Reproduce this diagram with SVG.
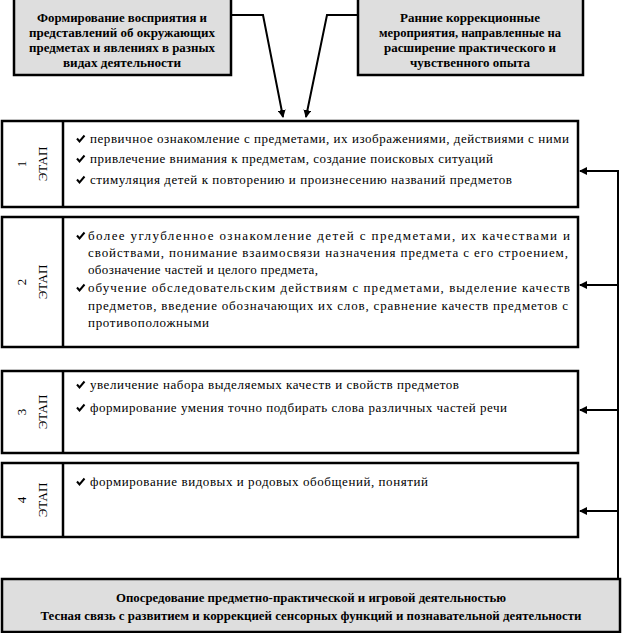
<svg xmlns="http://www.w3.org/2000/svg" width="623" height="633" viewBox="0 0 623 633">
<defs>
<style>
.box{fill:#fff;stroke:#000;stroke-width:2.5}
.gbox{fill:#dedede;stroke:#000;stroke-width:2.5}
.div{stroke:#000;stroke-width:2.5}
text{font-family:'Liberation Serif',serif;font-size:13px;fill:#000}
.b{font-weight:bold;text-anchor:middle}
.lab{text-anchor:middle}
.con{fill:none;stroke:#000;stroke-width:2}
.chk{fill:none;stroke:#000;stroke-width:2}
</style>
<marker id="ah" markerWidth="8" markerHeight="8" refX="7" refY="4" orient="auto" markerUnits="userSpaceOnUse">
<path d="M0,0 L8,4 L0,8 z" fill="#000"/>
</marker>
<path id="ck" d="M-4,-0.5 L-1.5,2.5 L3.5,-3.5" class="chk"/>
</defs>

<g id="top-left">
<rect class="gbox" x="14" y="-2" width="217" height="77"/>
<text class="b" x="122" y="22" textLength="170" lengthAdjust="spacingAndGlyphs">Формирование восприятия и</text>
<text class="b" x="122" y="37" textLength="186" lengthAdjust="spacingAndGlyphs">представлений об окружающих</text>
<text class="b" x="122" y="52" textLength="186" lengthAdjust="spacingAndGlyphs">предметах и явлениях в разных</text>
<text class="b" x="122" y="67" textLength="118" lengthAdjust="spacingAndGlyphs">видах деятельности</text>
</g>

<g id="top-right">
<rect class="gbox" x="358" y="-2" width="225" height="77"/>
<text class="b" x="470" y="22" textLength="140" lengthAdjust="spacingAndGlyphs">Ранние коррекционные</text>
<text class="b" x="470" y="37" textLength="182" lengthAdjust="spacingAndGlyphs">мероприятия, направленные на</text>
<text class="b" x="470" y="52" textLength="172" lengthAdjust="spacingAndGlyphs">расширение практического и</text>
<text class="b" x="470" y="67" textLength="120" lengthAdjust="spacingAndGlyphs">чувственного опыта</text>
</g>

<g id="stage1">
<rect class="box" x="2" y="121" width="576" height="86"/>
<line class="div" x1="63" y1="121" x2="63" y2="207"/>
<text class="lab" transform="translate(26,164) rotate(-90)">1</text>
<text class="lab" transform="translate(47,164) rotate(-90)">ЭТАП</text>
<use href="#ck" x="81" y="139"/>
<use href="#ck" x="81" y="159"/>
<use href="#ck" x="81" y="180"/>
<text x="90" y="143" textLength="479" lengthAdjust="spacing">первичное ознакомление  с предметами, их изображениями, действиями с ними</text>
<text x="90" y="163" textLength="403" lengthAdjust="spacing">привлечение внимания к предметам, создание поисковых ситуаций</text>
<text x="90" y="184" textLength="422" lengthAdjust="spacing">стимуляция детей к повторению и произнесению  названий предметов</text>
</g>

<g id="stage2">
<rect class="box" x="2" y="217" width="576" height="130"/>
<line class="div" x1="63" y1="217" x2="63" y2="347"/>
<text class="lab" transform="translate(26,282) rotate(-90)">2</text>
<text class="lab" transform="translate(47,282) rotate(-90)">ЭТАП</text>
<use href="#ck" x="81" y="236"/>
<use href="#ck" x="81" y="288"/>
<text x="88" y="240" textLength="482" lengthAdjust="spacing">более  углубленное  ознакомление  детей  с  предметами,  их  качествами  и</text>
<text x="88" y="257" textLength="480" lengthAdjust="spacing">свойствами, понимание взаимосвязи  назначения предмета с его строением,</text>
<text x="88" y="274" textLength="230" lengthAdjust="spacing">обозначение частей и целого предмета,</text>
<text x="88" y="292" textLength="482" lengthAdjust="spacing">обучение  обследовательским  действиям  с  предметами,  выделение  качеств</text>
<text x="88" y="310" textLength="480" lengthAdjust="spacing">предметов, введение обозначающих их слов, сравнение качеств предметов с</text>
<text x="88" y="327" textLength="121" lengthAdjust="spacing">противоположными</text>
</g>

<g id="stage3">
<rect class="box" x="2" y="371" width="576" height="82"/>
<line class="div" x1="63" y1="371" x2="63" y2="453"/>
<text class="lab" transform="translate(26,412) rotate(-90)">3</text>
<text class="lab" transform="translate(47,412) rotate(-90)">ЭТАП</text>
<use href="#ck" x="81" y="385"/>
<use href="#ck" x="81" y="408"/>
<text x="90" y="389" textLength="369" lengthAdjust="spacing">увеличение набора выделяемых качеств и свойств предметов</text>
<text x="90" y="412" textLength="417" lengthAdjust="spacing">формирование умения точно подбирать слова различных частей речи</text>
</g>

<g id="stage4">
<rect class="box" x="2" y="463" width="576" height="74"/>
<line class="div" x1="63" y1="463" x2="63" y2="537"/>
<text class="lab" transform="translate(26,500) rotate(-90)">4</text>
<text class="lab" transform="translate(47,500) rotate(-90)">ЭТАП</text>
<use href="#ck" x="81" y="482"/>
<text x="90" y="486" textLength="338" lengthAdjust="spacing">формирование видовых и родовых обобщений, понятий</text>
</g>

<g id="bottom">
<rect class="gbox" x="2" y="579" width="618" height="53"/>
<text class="b" x="311" y="602" textLength="390" lengthAdjust="spacingAndGlyphs">Опосредование предметно-практической и игровой деятельностью</text>
<text class="b" x="311" y="620" textLength="541" lengthAdjust="spacingAndGlyphs">Тесная связь с развитием и коррекцией сенсорных функций и познавательной деятельности</text>
</g>

<g id="connectors">
<polyline class="con" points="231,15 263,15 283,117" marker-end="url(#ah)"/>
<polyline class="con" points="358,15 327,15 306,117" marker-end="url(#ah)"/>
<line class="con" x1="618" y1="170" x2="618" y2="579"/>
<line class="con" x1="618" y1="171" x2="580" y2="171" marker-end="url(#ah)"/>
<line class="con" x1="618" y1="285" x2="580" y2="285" marker-end="url(#ah)"/>
<line class="con" x1="618" y1="410" x2="580" y2="410" marker-end="url(#ah)"/>
<line class="con" x1="618" y1="511" x2="580" y2="511" marker-end="url(#ah)"/>
</g>
</svg>
